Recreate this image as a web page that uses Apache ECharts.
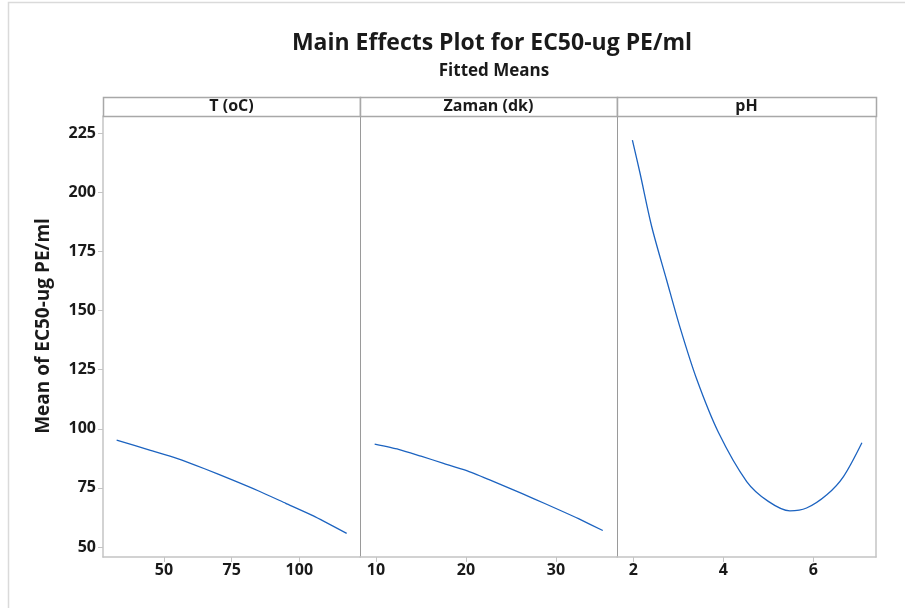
<!DOCTYPE html>
<html>
<head>
<meta charset="utf-8">
<script src="https://cdn.jsdelivr.net/npm/echarts@6/dist/echarts.min.js"></script>
<style>
  html, body { margin: 0; padding: 0; background: #fff; }
  #main { width: 905px; height: 608px; }
</style>
</head>
<body>
<div id="main"></div>
<script>
// panel names
var panelNames = ['T (oC)', 'Zaman (dk)', 'pH'];

// T (oC) fitted means
var tempX = [32.5, 45, 55, 65, 75, 85, 95, 105, 117.5];
var tempMean = [95.2, 90.9, 87.4, 83.1, 78.5, 73.7, 68.5, 63.3, 55.8];

// Zaman (dk) fitted means
var zamanX = [9.85, 12.5, 15, 17.5, 20, 22.5, 25, 27.5, 30, 32.5, 35.2];
var zamanMean = [93.5, 91.3, 88.4, 85.4, 82.4, 78.6, 74.6, 70.5, 66.3, 62.0, 57.0];

// pH fitted means
var phX = [1.98, 2.15, 2.41, 2.74, 3.05, 3.41, 3.89, 4.52, 5.0, 5.48, 5.85, 6.3, 6.67, 7.08];
var phMean = [222.0, 208.0, 185.4, 162.9, 142.1, 120.9, 98.5, 77.7, 69.3, 65.3, 66.5, 72.1, 79.8, 94.1];

// tick labels
var yTicks = [50, 75, 100, 125, 150, 175, 200, 225];
var tempTicks = [50, 75, 100];
var zamanTicks = [10, 20, 30];
var phTicks = [2, 4, 6];

var fontFam = '"Open Sans", "Noto Sans", sans-serif';
var lineColor = '#1c63c0';
var lightGray = '#c4c4c4';
var darkGray = '#9a9a9a';

var panelLeft = [103, 360, 617];
var panelWidth = [257, 257, 259];
var plotTop = 116, plotBottom = 557;

function pairs(xs, ys) {
	var out = [];
	for (var i = 0; i < xs.length; i++) {
		out.push([xs[i], ys[i]]);
	}
	return out;
}

var grids = [], xAxes = [], yAxes = [];
var xRanges = [[27.46, 122.43], [8.22, 36.78], [1.638, 7.393]];
var xTickSets = [tempTicks, zamanTicks, phTicks];

for (var p = 0; p < 3; p++) {
	grids.push({
		left: panelLeft[p],
		top: plotTop,
		width: panelWidth[p],
		height: plotBottom - plotTop
	});
	xAxes.push({
		type: 'value',
		gridIndex: p,
		min: xRanges[p][0],
		max: xRanges[p][1],
		axisLine: { show: true, lineStyle: { color: lightGray, width: 1.5 } },
		axisTick: { show: true, customValues: xTickSets[p], length: 5, lineStyle: { color: lightGray } },
		axisLabel: {
			customValues: xTickSets[p],
			color: '#1a1a1a',
			fontFamily: fontFam,
			fontSize: 16,
			fontWeight: 'bold',
			margin: 5
		},
		splitLine: { show: false }
	});
	yAxes.push({
		type: 'value',
		gridIndex: p,
		min: 45.8,
		max: 232.2,
		axisLine: { show: true, onZero: false, lineStyle: { color: p === 0 ? lightGray : darkGray, width: p === 0 ? 1.5 : 1 } },
		axisTick: { show: p === 0, customValues: yTicks, length: 5, lineStyle: { color: lightGray } },
		axisLabel: {
			show: p === 0,
			customValues: yTicks,
			color: '#1a1a1a',
			fontFamily: fontFam,
			fontSize: 16,
			fontWeight: 'bold',
			margin: 7
		},
		splitLine: { show: false }
	});
}
// right border of last panel
yAxes.push({
	type: 'value',
	gridIndex: 2,
	position: 'right',
	min: 45.8,
	max: 232.2,
	axisLine: { show: true, lineStyle: { color: lightGray, width: 1.5 } },
	axisTick: { show: false },
	axisLabel: { show: false },
	splitLine: { show: false }
});

// header strips
var strips = [];
for (var s = 0; s < 3; s++) {
	strips.push({
		type: 'rect',
		shape: { x: panelLeft[s] + 0.5, y: 97.5, width: panelWidth[s], height: 19 },
		style: { fill: '#fff', stroke: '#a8a8a8', lineWidth: 1.5 },
		z: 10
	});
	strips.push({
		type: 'text',
		x: panelLeft[s] + panelWidth[s] / 2,
		y: 106,
		style: {
			text: panelNames[s],
			align: 'center',
			verticalAlign: 'middle',
			fontFamily: fontFam,
			fontSize: 16,
			fontWeight: 'bold',
			fill: '#1a1a1a'
		},
		z: 11
	});
}

var option = {
	animation: false,
	backgroundColor: '#fff',
	title: [{
		text: 'Main Effects Plot for EC50-ug PE/ml',
		left: 487,
		top: 27,
		textAlign: 'center',
		textStyle: { fontFamily: fontFam, fontSize: 23, fontWeight: 'bold', color: '#1a1a1a' }
	}, {
		text: 'Fitted Means',
		left: 489,
		top: 58,
		textAlign: 'center',
		textStyle: { fontFamily: fontFam, fontSize: 17, fontWeight: 'bold', color: '#1a1a1a' }
	}],
	grid: grids,
	xAxis: xAxes,
	yAxis: yAxes,
	graphic: [{
		type: 'rect',
		shape: { x: 8.5, y: 2.5, width: 1000, height: 1000 },
		style: { fill: 'none', stroke: '#dadada', lineWidth: 1.5 },
		silent: true
	}, {
		type: 'text',
		x: 44,
		y: 326,
		rotation: Math.PI / 2,
		style: {
			text: 'Mean of EC50-ug PE/ml',
			align: 'center',
			verticalAlign: 'middle',
			fontFamily: fontFam,
			fontSize: 19,
			fontWeight: 'bold',
			fill: '#1a1a1a'
		}
	}].concat(strips),
	series: [{
		type: 'line',
		xAxisIndex: 0,
		yAxisIndex: 0,
		showSymbol: false,
		smooth: 0.2,
		lineStyle: { color: lineColor, width: 1.3 },
		data: pairs(tempX, tempMean)
	}, {
		type: 'line',
		xAxisIndex: 1,
		yAxisIndex: 1,
		showSymbol: false,
		smooth: 0.2,
		lineStyle: { color: lineColor, width: 1.3 },
		data: pairs(zamanX, zamanMean)
	}, {
		type: 'line',
		xAxisIndex: 2,
		yAxisIndex: 2,
		showSymbol: false,
		smooth: 0.3,
		lineStyle: { color: lineColor, width: 1.3 },
		data: pairs(phX, phMean)
	}]
};

var chart = echarts.init(document.getElementById('main'));
chart.setOption(option);
</script>
</body>
</html>
